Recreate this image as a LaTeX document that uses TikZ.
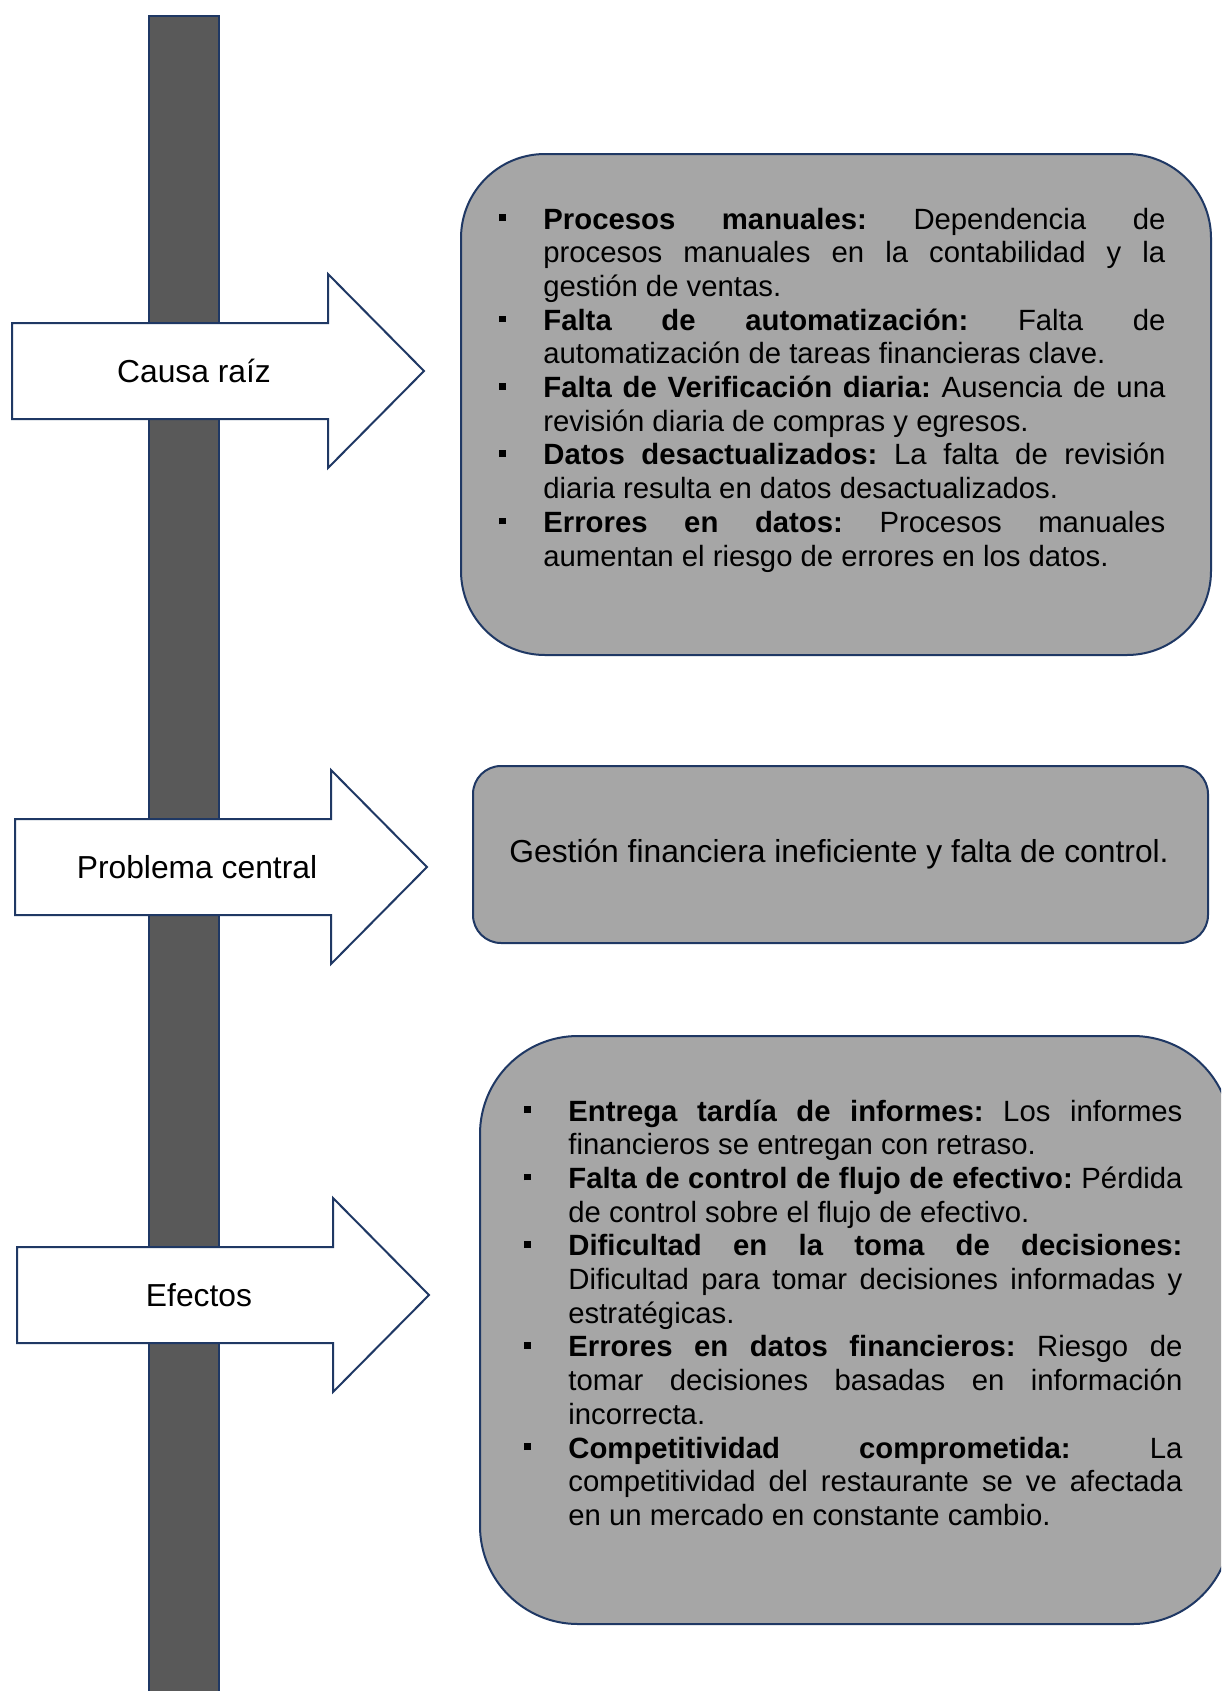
\documentclass[tikz,border=0pt]{standalone}
\usepackage{fontspec}
\setmainfont{Liberation Sans}
\usepackage{tikz}
\usetikzlibrary{positioning}

\definecolor{marino}{HTML}{1F3864}
\definecolor{grisoscuro}{HTML}{595959}
\definecolor{grisclaro}{HTML}{A6A6A6}

\tolerance=10000
\hbadness=10000
\hyphenpenalty=10000
\frenchspacing

\newcommand{\bala}{\rule[4pt]{3.3pt}{3.3pt}}
\newcommand{\punto}{\par\noindent\llap{\makebox[22pt][l]{\bala}}}
\newcommand{\textolista}{\fontsize{14.65}{16.85}\selectfont\parindent=0pt\parskip=0pt\leftskip=22pt}

\tikzset{
  barra/.style={draw=marino, fill=grisoscuro, line width=1pt},
  flecha/.style={draw=marino, fill=white, line width=1pt},
  caja/.style={draw=marino, fill=grisclaro, line width=1pt},
  etiqueta/.style={font=\fontsize{15.9}{19}\selectfont, inner sep=0pt},
}

\begin{document}
\begin{tikzpicture}[x=0.5pt, y=-0.5pt]
\path[use as bounding box, fill=white] (0,0) rectangle (1221,1691);
\clip (0,0) rectangle (1221,1691);
%%%%% Barra %%%%%
\draw[barra] (149,16) rectangle (219,1720);
%%%%% Flechas %%%%%
\foreach \x/\y/\texto/\nombre in {12/371/Causa raíz/causa, 15/867/Problema central/central, 17/1295/Efectos/efectos}{
\draw[flecha] (\x,\y-48) -- ++(316,0) -- ++(0,-49) -- ++(96,97) -- ++(-96,97) -- ++(0,-49) -- (\x,\y+48) -- cycle;
\node[etiqueta, anchor=base] (\nombre) at (\x+182,\y+11.5) {\texto};
}
%%%%% Cajas %%%%%
\draw[caja, rounded corners=42pt] (461,154) rectangle (1211,655);
\draw[caja, rounded corners=14pt] (473,766) rectangle (1208,943);
\draw[caja, rounded corners=49pt] (480,1036) rectangle (1231,1624);
\node[anchor=base west, inner sep=0pt] (listacausas) at (499,229) {\begin{minipage}[t]{333pt}\textolista
\punto\textbf{Procesos manuales:} Dependencia de \linebreak procesos manuales en la contabilidad y la \linebreak gestión de ventas.
\punto\textbf{Falta de automatización:} Falta de \linebreak automatización de tareas financieras clave.
\punto\textbf{Falta de Verificación diaria:} Ausencia de una \linebreak revisión diaria de compras y egresos.
\punto\textbf{Datos desactualizados:} La falta de revisión \linebreak diaria resulta en datos desactualizados.
\punto\textbf{Errores en datos:} Procesos manuales \linebreak aumentan el riesgo de errores en los datos.
\end{minipage}};
\node[etiqueta, anchor=base] (textoproblema) at (839,862) {Gestión financiera ineficiente y falta de control.};
\node[anchor=base west, inner sep=0pt] (listaefectos) at (524,1121) {\begin{minipage}[t]{329pt}\textolista
\punto\textbf{Entrega tardía de informes:} Los informes \linebreak financieros se entregan con retraso.
\punto\textbf{Falta de control de flujo de efectivo:} Pérdida \linebreak de control sobre el flujo de efectivo.
\punto\textbf{Dificultad en la toma de decisiones:} \linebreak Dificultad para tomar decisiones informadas y \linebreak estratégicas.
\punto\textbf{Errores en datos financieros:} Riesgo de \linebreak tomar decisiones basadas en información \linebreak incorrecta.
\punto\textbf{Competitividad comprometida:} La \linebreak competitividad del restaurante se ve afectada \linebreak en un mercado en constante cambio.
\end{minipage}};
\end{tikzpicture}
\end{document}
